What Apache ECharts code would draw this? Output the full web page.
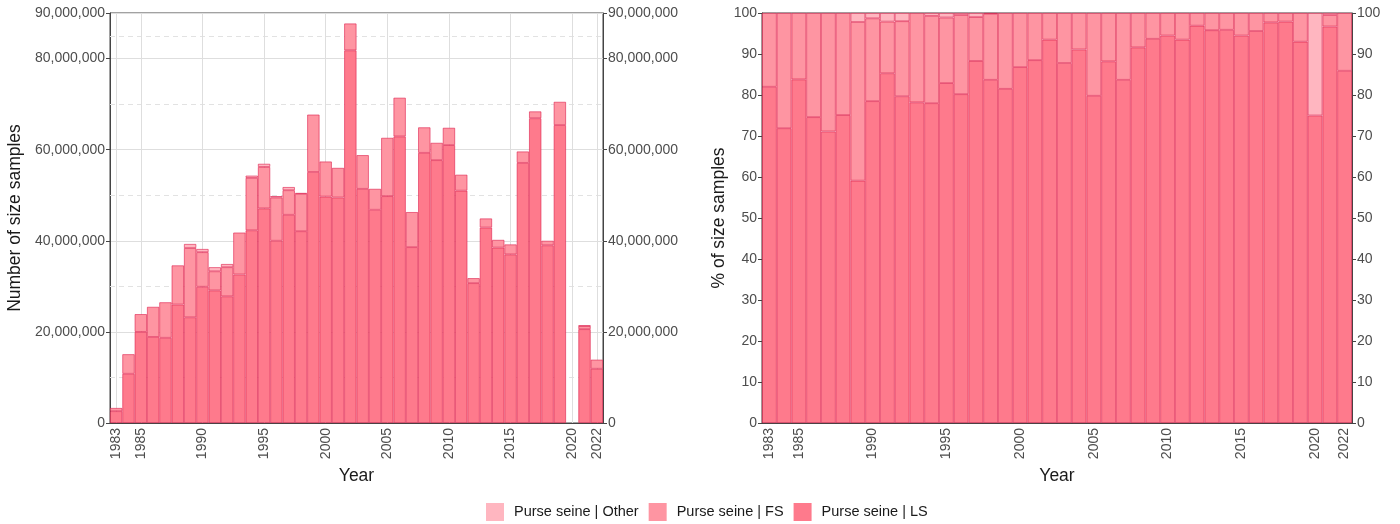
<!DOCTYPE html>
<html>
<head>
<meta charset="utf-8">
<script src="https://cdn.jsdelivr.net/npm/echarts@6/dist/echarts.min.js"></script>
<style>
  html, body { margin: 0; padding: 0; background: #fff; }
  #main { width: 1400px; height: 524px; }
</style>
</head>
<body>
<div id="main"></div>
<script>
// years on the x axis
var years = [];
for (var y = 1983; y <= 2022; y++) years.push(String(y));
var labelYears = ['1983', '1985', '1990', '1995', '2000', '2005', '2010', '2015', '2020', '2022'];

// number of size samples (left panel)
var nbLS = [2600000, 10800000, 20000000, 18900000, 18700000, 26000000, 23200000, 29900000, 29100000, 27800000,
    32600000, 42300000, 47100000, 40000000, 45700000, 42100000, 55100000, 49700000, 49500000, 81800000,
    51400000, 46800000, 49800000, 62900000, 38600000, 59300000, 57700000, 61000000, 51000000, 30700000,
    42900000, 38500000, 37000000, 57100000, 66900000, 39000000, 65400000, null, 20600000, 11900000];
var nbFS = [700000, 4300000, 3900000, 6600000, 7800000, 8600000, 15200000, 7600000, 4200000, 6400000,
    9200000, 11500000, 9100000, 9500000, 5400000, 8200000, 12600000, 7700000, 6500000, 5900000,
    7400000, 4600000, 12800000, 8500000, 7700000, 5600000, 3800000, 3800000, 3500000, 1100000,
    2000000, 1700000, 2200000, 2500000, 1500000, 1000000, 5100000, null, 700000, 2000000];
var nbOther = [0, 0, 0, 0, 0, 0, 900000, 700000, 900000, 700000,
    0, 500000, 700000, 300000, 700000, 200000, 0, 0, 0, 0,
    0, 0, 0, 0, 0, 0, 0, 0, 0, 0,
    0, 0, 0, 0, 0, 0, 0, null, 100000, 0];

// % of size samples (right panel)
var pctLS = [82.0, 71.9, 83.8, 74.6, 71.1, 75.1, 59.1, 78.5, 85.3, 79.7,
    78.2, 78.0, 82.9, 80.2, 88.3, 83.7, 81.5, 86.8, 88.5, 93.5,
    87.8, 91.1, 79.8, 88.2, 83.7, 91.6, 93.7, 94.5, 93.5, 96.9,
    95.8, 95.9, 94.5, 95.6, 97.7, 97.9, 93.0, 75.0, 96.7, 85.9];
var pctOther = [0, 0, 0, 0, 0, 0, 2.2, 1.3, 2.1, 2.0,
    0, 0.7, 1.1, 0.5, 1.0, 0.2, 0, 0, 0, 0,
    0, 0, 0, 0, 0, 0, 0, 0, 0, 0,
    0, 0, 0, 0, 0, 0, 0, 25.0, 0.5, 0];
var pctFS = pctLS.map(function (v, i) { return +(100 - v - pctOther[i]).toFixed(1); });

var colLS = '#fe7a8c', colFS = '#fe95a2', colOther = '#ffb6c0';
var edge = 'rgba(222,30,75,0.75)';
var axisCol = '#444', tickTxt = '#4d4d4d';
var fontFam = '"Liberation Sans", Arial, sans-serif';

function noZero(arr) {
    return arr.map(function (v) { return v ? v : null; });
}
function commas(v) {
    return String(Math.round(v)).replace(/\B(?=(\d{3})+(?!\d))/g, ',');
}
function showYear(i) {
    return labelYears.indexOf(years[i]) >= 0;
}

function xAx(gi) {
    return {
        type: 'category', gridIndex: gi, data: years,
        name: 'Year', nameLocation: 'middle', nameGap: 42,
        nameTextStyle: { color: '#1a1a1a', fontSize: 17.5, fontFamily: fontFam },
        axisLine: { lineStyle: { color: axisCol } },
        axisTick: { alignWithLabel: true, interval: showYear, length: 4, lineStyle: { color: axisCol } },
        axisLabel: { rotate: 90, interval: showYear, color: tickTxt, fontSize: 14, fontFamily: fontFam, margin: 5 },
        splitLine: { show: false }
    };
}
function yAx(gi, pos, opts) {
    var a = {
        type: 'value', gridIndex: gi, position: pos,
        min: 0, max: opts.max, interval: opts.interval,
        axisLine: { show: true, lineStyle: { color: axisCol } },
        axisTick: { show: true, length: 4, lineStyle: { color: axisCol } },
        axisLabel: { color: tickTxt, fontSize: 14, fontFamily: fontFam, margin: 5, formatter: opts.fmt },
        splitLine: { show: opts.split, lineStyle: { color: '#dedede', width: 1 } }
    };
    if (opts.name) {
        a.name = opts.name;
        a.nameLocation = 'middle';
        a.nameGap = opts.nameGap;
        a.nameTextStyle = { color: '#1a1a1a', fontSize: 17.5, fontFamily: fontFam };
    }
    return a;
}

// minor grid (dashed) and vertical grid for left panel
var gridMarks = [];
[10e6, 30e6, 50e6, 70e6, 85e6].forEach(function (v) {
    gridMarks.push({ yAxis: v, lineStyle: { type: [5, 4], color: '#e2e2e2', width: 1 } });
});
labelYears.forEach(function (yr) {
    gridMarks.push({ xAxis: yr, lineStyle: { type: 'solid', color: '#dedede', width: 1 } });
});

function barSeries(name, data, color, xi, yi, extra) {
    var s = {
        name: name, type: 'bar', stack: 'p' + xi, xAxisIndex: xi, yAxisIndex: yi,
        data: noZero(data), barCategoryGap: '0%',
        itemStyle: { color: color, borderColor: edge, borderWidth: 0.8 },
        emphasis: { disabled: true }
    };
    if (extra) for (var k in extra) s[k] = extra[k];
    return s;
}

var chart = echarts.init(document.getElementById('main'));
chart.setOption({
    animation: false,
    textStyle: { fontFamily: fontFam },
    grid: [
        { left: 110, right: 797, top: 13, bottom: 101, show: true, borderColor: axisCol, borderWidth: 1 },
        { left: 762, right: 48, top: 13, bottom: 101, show: true, borderColor: axisCol, borderWidth: 1 }
    ],
    legend: {
        top: 498, left: 481, itemWidth: 18, itemHeight: 18, itemGap: 10,
        icon: 'rect',
        itemStyle: { borderWidth: 0 },
        textStyle: { color: '#1a1a1a', fontSize: 14.5, fontFamily: fontFam, padding: [0, 0, 0, 5] },
        data: ['Purse seine | Other', 'Purse seine | FS', 'Purse seine | LS']
    },
    xAxis: [xAx(0), xAx(1)],
    yAxis: [
        yAx(0, 'left', { max: 90e6, interval: 20e6, fmt: commas, split: true, name: 'Number of size samples', nameGap: 86 }),
        yAx(0, 'right', { max: 90e6, interval: 20e6, fmt: commas, split: false }),
        yAx(1, 'left', { max: 100, interval: 10, split: false, name: '% of size samples', nameGap: 34 }),
        yAx(1, 'right', { max: 100, interval: 10, split: false })
    ],
    series: [
        barSeries('Purse seine | LS', nbLS, colLS, 0, 0, {
            markLine: { silent: true, z: 1, symbol: 'none', label: { show: false }, animation: false, data: gridMarks }
        }),
        barSeries('Purse seine | FS', nbFS, colFS, 0, 0),
        barSeries('Purse seine | Other', nbOther, colOther, 0, 0),
        barSeries('Purse seine | LS', pctLS, colLS, 1, 2),
        barSeries('Purse seine | FS', pctFS, colFS, 1, 2),
        barSeries('Purse seine | Other', pctOther, colOther, 1, 2)
    ]
});
</script>
</body>
</html>
